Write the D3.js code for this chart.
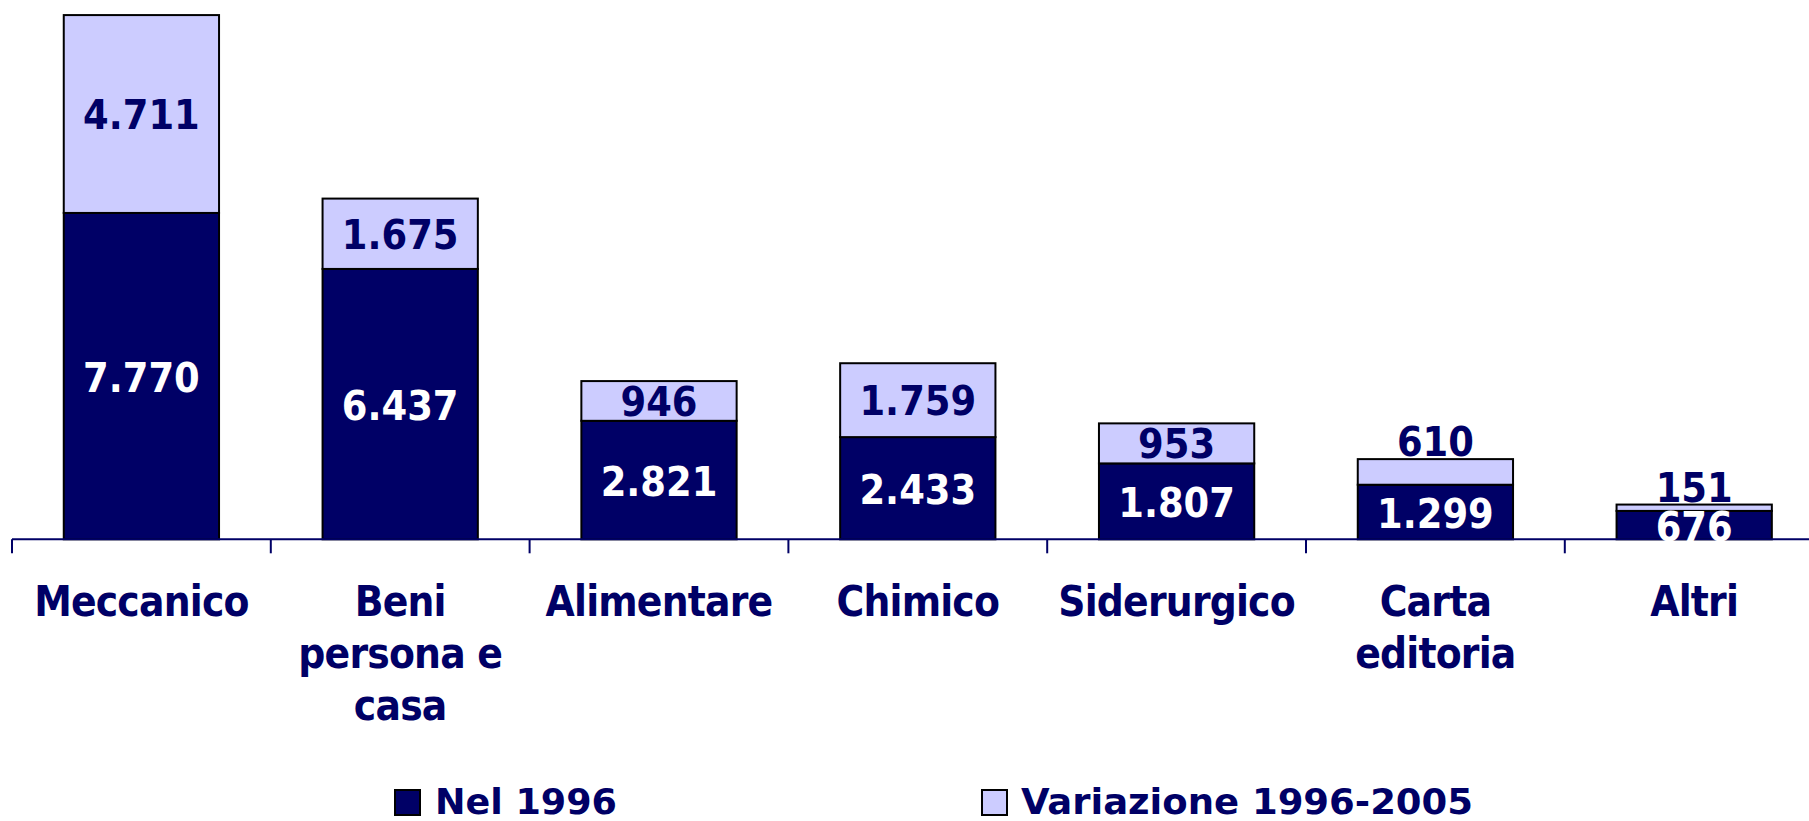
<!DOCTYPE html>
<html>
<head>
<meta charset="utf-8">
<script src="https://cdn.jsdelivr.net/npm/d3@7"></script>
<style>
  html, body { margin: 0; padding: 0; background: #ffffff; }
  svg { display: block; }
  text { font-family: "DejaVu Sans Condensed", "DejaVu Sans", sans-serif; font-stretch: condensed; font-weight: bold; }
</style>
</head>
<body>
<svg id="chart" width="1809" height="821"></svg>
<script>
// ---- Data ----
const categories = ["Meccanico", "Beni persona e casa", "Alimentare", "Chimico", "Siderurgico", "Carta editoria", "Altri"];
const categoryLines = [["Meccanico"], ["Beni", "persona e", "casa"], ["Alimentare"], ["Chimico"], ["Siderurgico"], ["Carta", "editoria"], ["Altri"]];
const nel1996 = [7770, 6437, 2821, 2433, 1807, 1299, 676];
const variazione = [4711, 1675, 946, 1759, 953, 610, 151];
const seriesNames = ["Nel 1996", "Variazione 1996-2005"];

// ---- Layout ----
const W = 1809, H = 821;
const baseY = 539.3;
const x0 = 12, step = 258.8;
const navy = "#000066", light = "#CCCCFF";

const svg = d3.select("#chart");
const fmt = d3.formatLocale({decimal: ",", thousands: ".", grouping: [3], currency: ["€", ""]}).format(",d");

const x = d3.scaleBand()
  .domain(categories)
  .range([x0, x0 + step * categories.length])
  .paddingInner(0.4)
  .paddingOuter(0.2);

const y = d3.scaleLinear().domain([0, 12840]).range([baseY, 0]);

const rows = categories.map((c, i) => ({cat: c, a: nel1996[i], b: variazione[i], lines: categoryLines[i]}));
const stack = d3.stack().keys(["a", "b"])(rows);

// bars
const colors = [navy, light];
stack.forEach((layer, li) => {
  svg.append("g").selectAll("rect").data(layer).join("rect")
    .attr("x", d => x(d.data.cat))
    .attr("width", x.bandwidth())
    .attr("y", d => y(d[1]))
    .attr("height", d => y(d[0]) - y(d[1]))
    .attr("fill", colors[li])
    .attr("stroke", "#000000")
    .attr("stroke-width", 2);
});

// axis line & ticks
const axisG = svg.append("g");
axisG.append("line").attr("x1", x0).attr("x2", W).attr("y1", baseY).attr("y2", baseY)
  .attr("stroke", navy).attr("stroke-width", 2);
const tickXs = d3.range(categories.length + 1).map(i => x0 + i * step);
axisG.selectAll("line.tick").data(tickXs).join("line").attr("class", "tick")
  .attr("x1", d => d).attr("x2", d => d).attr("y1", baseY).attr("y2", baseY + 14)
  .attr("stroke", navy).attr("stroke-width", 2);

// value labels
const vfs = 41;
const capOff = vfs * 0.3645;
// dark segment labels (white)
svg.append("g").selectAll("text").data(stack[0]).join("text")
  .attr("x", d => x(d.data.cat) + x.bandwidth() / 2)
  .attr("y", d => (y(d[0]) + y(d[1])) / 2 + capOff + 1)
  .attr("text-anchor", "middle")
  .attr("font-size", vfs)
  .attr("fill", "#ffffff")
  .text(d => fmt(d.data.a));
// light segment labels (navy) - above the bar when segment too thin
svg.append("g").selectAll("text").data(stack[1]).join("text")
  .attr("x", d => x(d.data.cat) + x.bandwidth() / 2)
  .attr("y", d => {
    const h = y(d[0]) - y(d[1]);
    if (h < 32) return y(d[1]) - 3;
    return (y(d[0]) + y(d[1])) / 2 + capOff;
  })
  .attr("text-anchor", "middle")
  .attr("font-size", vfs)
  .attr("fill", navy)
  .text(d => fmt(d.data.b));

// category labels
const cfs = 42;
const catG = svg.append("g").selectAll("text").data(rows).join("text")
  .attr("x", d => x(d.cat) + x.bandwidth() / 2)
  .attr("y", 616)
  .attr("text-anchor", "middle")
  .attr("font-size", cfs)
  .attr("letter-spacing", -0.8)
  .attr("fill", navy);
catG.selectAll("tspan").data(d => d.lines).join("tspan")
  .attr("x", function () { return d3.select(this.parentNode).attr("x"); })
  .attr("dy", (d, i) => i === 0 ? 0 : 52)
  .text(d => d);

// legend
const legend = [
  {name: seriesNames[0], color: navy, sx: 395, tx: 435, tl: 182},
  {name: seriesNames[1], color: light, sx: 982, tx: 1021, tl: 452}
];
const lg = svg.append("g");
legend.forEach(l => {
  lg.append("rect").attr("x", l.sx).attr("y", 790).attr("width", 25).attr("height", 25)
    .attr("fill", l.color).attr("stroke", "#000000").attr("stroke-width", 2);
  lg.append("text").attr("x", l.tx).attr("y", 814).attr("font-size", 36)
    .attr("fill", navy)
    .attr("textLength", l.tl).attr("lengthAdjust", "spacingAndGlyphs")
    .text(l.name);
});
</script>
</body>
</html>
